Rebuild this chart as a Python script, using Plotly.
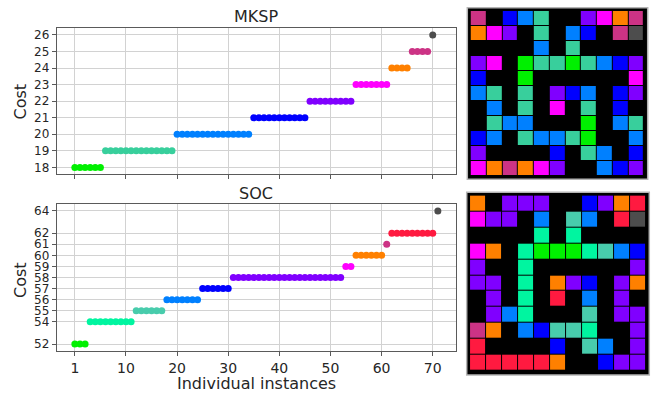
import plotly.graph_objects as go

W, H = 651, 396

# ---------------- data ----------------
mksp_costs = [18, 19, 20, 21, 22, 23, 24, 25, 26]
mksp_counts = [6, 14, 15, 11, 9, 7, 4, 4, 1]
mksp_colors = ["#00f000", "#38cf9c", "#0080ff", "#0000ff", "#8000ff",
               "#ff00ff", "#ff8000", "#cc3385", "#4d4d4d"]

soc_costs = [52, 54, 55, 56, 57, 58, 59, 60, 61, 62, 64]
soc_counts = [3, 9, 6, 7, 6, 22, 2, 6, 1, 9, 1]
soc_colors = ["#00f000", "#00f5a0", "#48ccac", "#0080ff", "#0000ff", "#8000ff",
              "#ff00ff", "#ff8000", "#cc3385", "#ff1a40", "#4d4d4d"]

x_tick_vals = [0, 10, 20, 30, 40, 50, 60, 70]
x_tick_text = ["1", "10", "20", "30", "40", "50", "60", "70"]

# 11x11 maps: each character is one cell, '.' = empty (black)
mksp_grid = [
    "k.blt..pmok",
    "omp.t.lb.kd",
    "....l.t....",
    "pm.gttgtlbp",
    "b..g......m",
    "lt.t.pbl.bp",
    ".l.t.m.t.b.",
    ".tll...g.lt",
    "bl.tlltg..l",
    "p....b.tl.b",
    "mokomp..lbp",
]
soc_grid = [
    "o.ppp..bpor",
    "mpp.l.al.rd",
    "....s.s....",
    "mo.sgggsalb",
    "p..s......p",
    "pp.s.opb.po",
    ".p.s.r.l.p.",
    ".pls...a.pp",
    "ko.lbaas..p",
    "r....b.al.p",
    "rrrrro..bpp",
]
grid_codes = [".", "g", "s", "t", "a", "l", "b", "p", "m", "o", "k", "r", "d"]
grid_colors = ["#000000", "#00f000", "#00f5a0", "#38cf9c", "#48ccac", "#0080ff",
               "#0000ff", "#8000ff", "#ff00ff", "#ff8000", "#cc3385", "#ff1a40",
               "#4d4d4d"]

# ---------------- helpers ----------------
def px_x(p):
    return p / W

def px_y(p):
    return 1 - p / H

FONT = "DejaVu Sans"
TXT = "#262626"
FRAME = "#5a5a5a"
GRID = "#d2d2d2"

fig = go.Figure()

# scatter panels
start = 0
for c, n, col in zip(mksp_costs, mksp_counts, mksp_colors):
    xs = list(range(start, start + n))
    fig.add_trace(go.Scatter(x=xs, y=[c] * n, mode="markers",
                             marker=dict(size=7, color=col, line=dict(width=0)),
                             xaxis="x", yaxis="y", showlegend=False))
    start += n

start = 0
for c, n, col in zip(soc_costs, soc_counts, soc_colors):
    xs = list(range(start, start + n))
    fig.add_trace(go.Scatter(x=xs, y=[c] * n, mode="markers",
                             marker=dict(size=7, color=col, line=dict(width=0)),
                             xaxis="x2", yaxis="y2", showlegend=False))
    start += n

# grid maps
N = len(grid_codes)
cscale = []
for i, col in enumerate(grid_colors):
    cscale.append([i / N, col])
    cscale.append([(i + 1) / N, col])

def grid_z(rows):
    return [[grid_codes.index(ch) for ch in row] for row in rows]

fig.add_trace(go.Heatmap(z=grid_z(mksp_grid), colorscale=cscale, zmin=-0.5, zmax=N - 0.5,
                         showscale=False, xgap=1, ygap=1, hoverinfo="skip",
                         xaxis="x3", yaxis="y3"))
fig.add_trace(go.Heatmap(z=grid_z(soc_grid), colorscale=cscale, zmin=-0.5, zmax=N - 0.5,
                         showscale=False, xgap=1, ygap=1, hoverinfo="skip",
                         xaxis="x4", yaxis="y4"))

main_x = dict(range=[-3.55, 74.55], tickvals=x_tick_vals, ticktext=x_tick_text,
              showline=True, mirror=True, linecolor=FRAME, linewidth=1,
              showgrid=True, gridcolor=GRID, gridwidth=1, zeroline=False,
              ticks="outside", ticklen=4, tickcolor=FRAME,
              tickfont=dict(family=FONT, size=14, color=TXT))
main_y = dict(showline=True, mirror=True, linecolor=FRAME, linewidth=1,
              showgrid=True, gridcolor=GRID, gridwidth=1, zeroline=False,
              ticks="outside", ticklen=4, tickcolor=FRAME,
              tickfont=dict(family=FONT, size=12, color=TXT))

def ann(text, x, y, angle=0):
    return dict(text=text, x=px_x(x), y=px_y(y), xref="paper", yref="paper",
                xanchor="center", yanchor="middle", showarrow=False,
                textangle=angle, font=dict(family=FONT, size=16, color=TXT))

dom_x = [px_x(56.7), px_x(456.0)]
layout = dict(
    width=W, height=H, autosize=False,
    margin=dict(l=0, r=0, t=0, b=0),
    paper_bgcolor="white", plot_bgcolor="white",
    xaxis=dict(main_x, domain=dom_x, anchor="y", showticklabels=False),
    yaxis=dict(main_y, domain=[px_y(174.0), px_y(28.3)], anchor="x",
               range=[17.6, 26.4], tickvals=mksp_costs),
    xaxis2=dict(main_x, domain=dom_x, anchor="y2"),
    yaxis2=dict(main_y, domain=[px_y(350.7), px_y(204.3)], anchor="x2",
                range=[51.4, 64.6], tickvals=soc_costs),
    xaxis3=dict(domain=[px_x(467.3), px_x(647.7)], anchor="y3", visible=False,
                range=[-0.72, 10.73]),
    yaxis3=dict(domain=[px_y(179.3), px_y(7.7)], anchor="x3", visible=False,
                range=[10.74, -0.72]),
    xaxis4=dict(domain=[px_x(466.7), px_x(649.3)], anchor="y4", visible=False,
                range=[-0.71, 10.73]),
    yaxis4=dict(domain=[px_y(375.0), px_y(192.3)], anchor="x4", visible=False,
                range=[10.77, -0.71]),
    shapes=[
        dict(type="rect", xref="x3 domain", yref="y3 domain", x0=0, x1=1, y0=0, y1=1,
             fillcolor="black", line=dict(color="#b4b4b4", width=1.5), layer="below"),
        dict(type="rect", xref="x4 domain", yref="y4 domain", x0=0, x1=1, y0=0, y1=1,
             fillcolor="black", line=dict(color="#b4b4b4", width=1.5), layer="below"),
    ],
    annotations=[
        ann("MKSP", 256.3, 16),
        ann("SOC", 256.3, 193),
        ann("Cost", 20, 101.5, -90),
        ann("Cost", 20, 280, -90),
        ann("Individual instances", 256.3, 383),
    ],
)
fig.update_layout(layout)
fig.write_html("out.html", config={"displayModeBar": False},
               post_script="document.body.style.margin='0';document.body.style.overflow='hidden';")
